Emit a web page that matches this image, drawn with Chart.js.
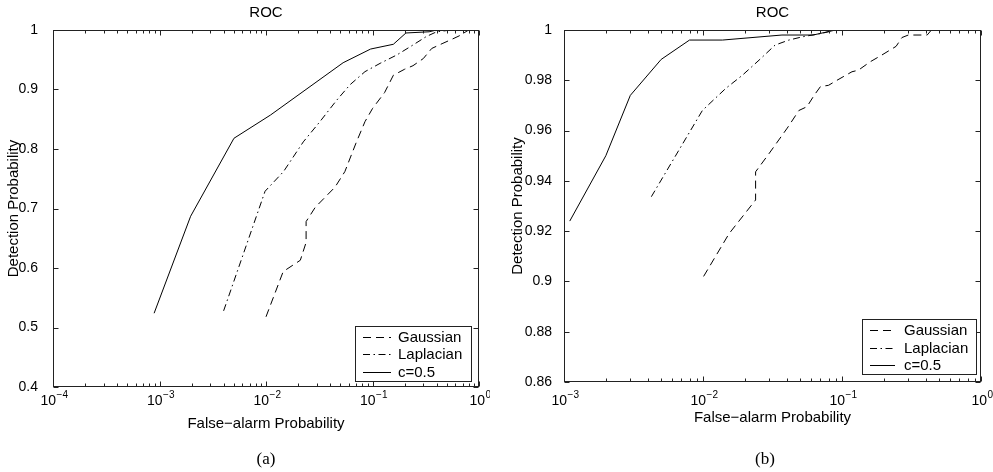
<!DOCTYPE html>
<html>
<head>
    <title>ROC</title>
    <script src="https://cdn.jsdelivr.net/npm/chart.js@4.4.0/dist/chart.umd.min.js"></script>
    <style>
        body {
            margin: 0;
            background: #fff;
            overflow: hidden;
        }
        #wrap {
            position: relative;
            width: 993px;
            height: 472px;
        }
        canvas {
            position: absolute;
            top: 0;
        }
        .cap {
            position: absolute;
            top: 449px;
            width: 60px;
            text-align: center;
            font-family: "Liberation Serif", "Times New Roman", serif;
            font-size: 17px;
            line-height: 20px;
            color: #000;
        }
    </style>
</head>
<body>
    <div id="wrap">
        <canvas id="rocA" width="490" height="472" style="left:0"></canvas>
        <canvas id="rocB" width="503" height="472" style="left:490px"></canvas>
        <div class="cap" style="left:236px">(a)</div>
        <div class="cap" style="left:735px">(b)</div>
    </div>

    <script>
        // shared labels
        const seriesNames = ['Gaussian', 'Laplacian', 'c=0.5'];
        const xTitle = 'False\u2212alarm Probability';
        const yTitle = 'Detection Probability';
        const tickBase = '10';

        // panel (a)
        const decadesA = [1e-4, 1e-3, 1e-2, 1e-1, 1];
        const decadeExpA = ['\u22124', '\u22123', '\u22122', '\u22121', '0'];
        const pdTicksA = [0.4, 0.5, 0.6, 0.7, 0.8, 0.9, 1];
        const pdLabelsA = ['0.4', '0.5', '0.6', '0.7', '0.8', '0.9', '1'];

        const gaussFaA = [0.01, 0.0145, 0.021, 0.0238, 0.0238, 0.029, 0.0445, 0.055, 0.07, 0.085, 0.1, 0.13, 0.157, 0.2, 0.24, 0.3, 0.36, 0.45, 0.55, 0.65, 0.8, 1];
        const gaussPdA = [0.518, 0.594, 0.613, 0.643, 0.678, 0.702, 0.736, 0.762, 0.81, 0.846, 0.868, 0.895, 0.924, 0.934, 0.94, 0.952, 0.969, 0.977, 0.984, 0.99, 1, 1];
        const laplFaA = [0.004, 0.0098, 0.0146, 0.0224, 0.0321, 0.0461, 0.0615, 0.085, 0.118, 0.169, 0.241, 0.32, 0.4, 0.55, 1];
        const laplPdA = [0.528, 0.729, 0.762, 0.812, 0.846, 0.882, 0.908, 0.93, 0.944, 0.958, 0.975, 0.989, 0.997, 1, 1];
        const cFaA = [0.00089, 0.00196, 0.005, 0.011, 0.053, 0.096, 0.157, 0.206, 0.34, 0.4, 1];
        const cPdA = [0.524, 0.687, 0.818, 0.857, 0.945, 0.968, 0.976, 0.995, 0.997, 1, 1];

        // panel (b)
        const decadesB = [1e-3, 1e-2, 1e-1, 1];
        const decadeExpB = ['\u22123', '\u22122', '\u22121', '0'];
        const pdTicksB = [0.86, 0.88, 0.9, 0.92, 0.94, 0.96, 0.98, 1];
        const pdLabelsB = ['0.86', '0.88', '0.9', '0.92', '0.94', '0.96', '0.98', '1'];

        const gaussFaB = [0.0101, 0.0154, 0.0239, 0.0239, 0.03, 0.0404, 0.049, 0.056, 0.063, 0.07, 0.08, 0.092, 0.118, 0.131, 0.16, 0.193, 0.245, 0.27, 0.3, 0.41, 0.44, 1];
        const gaussPdB = [0.902, 0.919, 0.9324, 0.9436, 0.951, 0.961, 0.968, 0.9695, 0.974, 0.9775, 0.978, 0.98, 0.9834, 0.984, 0.9874, 0.99, 0.9935, 0.997, 0.998, 0.998, 1, 1];
        const laplFaB = [0.00425, 0.0099, 0.0146, 0.0192, 0.0253, 0.033, 0.0415, 0.052, 0.072, 0.09, 1];
        const laplPdB = [0.9337, 0.968, 0.9768, 0.982, 0.988, 0.994, 0.996, 0.9973, 0.9987, 1, 1];
        const cFaB = [0.0011, 0.002, 0.003, 0.005, 0.008, 0.0138, 0.037, 0.062, 0.09, 1];
        const cPdB = [0.924, 0.95, 0.974, 0.9883, 0.996, 0.996, 0.998, 0.998, 1, 1];

        const FONT = '"Liberation Sans", Arial, Helvetica, sans-serif';
        Chart.defaults.font.family = FONT;
        Chart.defaults.color = '#000';

        function pts(fa, pd) {
            return fa.map((v, i) => ({ x: v, y: pd[i] }));
        }

        // box, inward ticks, 10^n labels and the legend drawn inside the axes
        const rocFrame = {
            id: 'rocFrame',
            afterDatasetsDraw(chart, args, o) {
                const { ctx, chartArea: a, scales: { x, y } } = chart;
                const L = a.left + 0.5, R = a.right - 0.5, T = a.top + 0.5, B = a.bottom - 0.5;
                ctx.save();
                ctx.strokeStyle = '#222';
                ctx.lineWidth = 1;
                ctx.setLineDash([]);
                ctx.strokeRect(L, T, R - L, B - T);

                ctx.beginPath();
                const lo = Math.floor(Math.log10(x.min)), hi = Math.ceil(Math.log10(x.max));
                for (let e = lo; e <= hi; e++) {
                    for (let k = 1; k <= 9; k++) {
                        const v = k * Math.pow(10, e);
                        if (v < x.min * 0.999 || v > x.max * 1.001) continue;
                        const px = Math.round(x.getPixelForValue(v)) + 0.5;
                        const len = k === 1 ? 5 : 3;
                        ctx.moveTo(px, B); ctx.lineTo(px, B - len);
                        ctx.moveTo(px, T); ctx.lineTo(px, T + len);
                    }
                }
                y.ticks.forEach(t => {
                    const py = Math.round(y.getPixelForValue(t.value)) + 0.5;
                    ctx.moveTo(L, py); ctx.lineTo(L + 5, py);
                    ctx.moveTo(R, py); ctx.lineTo(R - 5, py);
                });
                ctx.stroke();

                // decade labels with raised exponent
                ctx.fillStyle = '#000';
                ctx.textBaseline = 'alphabetic';
                ctx.textAlign = 'left';
                x.ticks.forEach((t, i) => {
                    const px = x.getPixelForValue(t.value);
                    ctx.font = '14px ' + FONT;
                    const wb = ctx.measureText(tickBase).width;
                    ctx.font = '10px ' + FONT;
                    const we = ctx.measureText(o.exps[i]).width;
                    const x0 = px - (wb + we) / 2 + 1;
                    const yb = a.bottom + o.labelDy;
                    ctx.font = '14px ' + FONT;
                    ctx.fillText(tickBase, x0, yb);
                    ctx.font = '10px ' + FONT;
                    ctx.fillText(o.exps[i], x0 + wb + 0.5, yb - 7);
                });

                // legend
                const bx = a.right - o.right - o.w, by = a.bottom - o.bottom - o.h;
                ctx.fillStyle = '#fff';
                ctx.fillRect(bx, by, o.w, o.h);
                ctx.strokeRect(Math.round(bx) + 0.5, Math.round(by) + 0.5, o.w, o.h);
                ctx.font = '15px ' + FONT;
                ctx.textBaseline = 'middle';
                ctx.fillStyle = '#000';
                chart.data.datasets.forEach((ds, i) => {
                    const ry = Math.round(by + o.row0 + i * o.rowGap) + 0.5;
                    ctx.setLineDash(ds.borderDash || []);
                    ctx.strokeStyle = '#000';
                    ctx.beginPath();
                    ctx.moveTo(bx + 8, ry);
                    ctx.lineTo(bx + o.sample, ry);
                    ctx.stroke();
                    ctx.setLineDash([]);
                    ctx.fillText(ds.label, bx + o.textX, ry);
                });
                ctx.restore();
            }
        };

        function makeRoc(id, p) {
            return new Chart(document.getElementById(id), {
                type: 'line',
                data: {
                    datasets: [
                        { label: seriesNames[0], data: pts(p.gFa, p.gPd), borderDash: [8, 5] },
                        { label: seriesNames[1], data: pts(p.lFa, p.lPd), borderDash: [7, 3.5, 1.5, 3.5] },
                        { label: seriesNames[2], data: pts(p.cFa, p.cPd) }
                    ]
                },
                options: {
                    responsive: false,
                    animation: false,
                    devicePixelRatio: 1,
                    layout: { padding: { left: 0, right: p.padRight, top: 0, bottom: p.padBottom } },
                    elements: {
                        point: { radius: 0 },
                        line: { borderColor: '#000', borderWidth: 1, tension: 0 }
                    },
                    scales: {
                        x: {
                            type: 'logarithmic',
                            min: p.decades[0],
                            max: p.decades[p.decades.length - 1],
                            grid: { display: false },
                            border: { display: false },
                            afterBuildTicks: s => { s.ticks = p.decades.map(v => ({ value: v })); },
                            afterFit: s => { s.height = 50; s.paddingLeft = 0; s.paddingRight = 0; },
                            ticks: { display: false },
                            title: {
                                display: true, text: xTitle,
                                font: { size: 15 },
                                padding: { top: 0, bottom: p.xTitlePad }
                            }
                        },
                        y: {
                            min: p.pdTicks[0],
                            max: p.pdTicks[p.pdTicks.length - 1],
                            grid: { display: false },
                            border: { display: false },
                            afterBuildTicks: s => { s.ticks = p.pdTicks.map(v => ({ value: v })); },
                            afterFit: s => { s.width = p.yWidth; s.paddingTop = 0; s.paddingBottom = 0; },
                            ticks: {
                                padding: p.yTickPad,
                                font: { size: 14 },
                                callback: (v, i) => p.pdLabels[i]
                            },
                            title: {
                                display: true, text: yTitle,
                                font: { size: 15 },
                                padding: { top: p.yTitlePad, bottom: 0 }
                            }
                        }
                    },
                    plugins: {
                        legend: { display: false },
                        tooltip: { enabled: false },
                        title: {
                            display: true, text: 'ROC', fullSize: false,
                            font: { size: 15, weight: 'normal' },
                            color: '#000',
                            padding: { top: 4, bottom: 8 }
                        },
                        rocFrame: p.legend
                    }
                },
                plugins: [rocFrame]
            });
        }

        makeRoc('rocA', {
            decades: decadesA, pdTicks: pdTicksA, pdLabels: pdLabelsA,
            gFa: gaussFaA, gPd: gaussPdA, lFa: laplFaA, lPd: laplPdA, cFa: cFaA, cPd: cPdA,
            padRight: 11, padBottom: 35, yWidth: 53,
            xTitlePad: 4, yTickPad: 7, yTitlePad: 5,
            legend: { exps: decadeExpA, labelDy: 18, w: 116, h: 55, right: 8, bottom: 6, row0: 10.5, rowGap: 17.8, sample: 36, textX: 43 }
        });

        makeRoc('rocB', {
            decades: decadesB, pdTicks: pdTicksB, pdLabels: pdLabelsB,
            gFa: gaussFaB, gPd: gaussPdB, lFa: laplFaB, lPd: laplPdB, cFa: cFaB, cPd: cPdB,
            padRight: 12, padBottom: 40, yWidth: 74,
            xTitlePad: 5, yTickPad: 4, yTitlePad: 19,
            legend: { exps: decadeExpB, labelDy: 23, w: 114, h: 55, right: 5, bottom: 8, row0: 11, rowGap: 17.6, sample: 33, textX: 42 }
        });
    </script>
</body>
</html>
